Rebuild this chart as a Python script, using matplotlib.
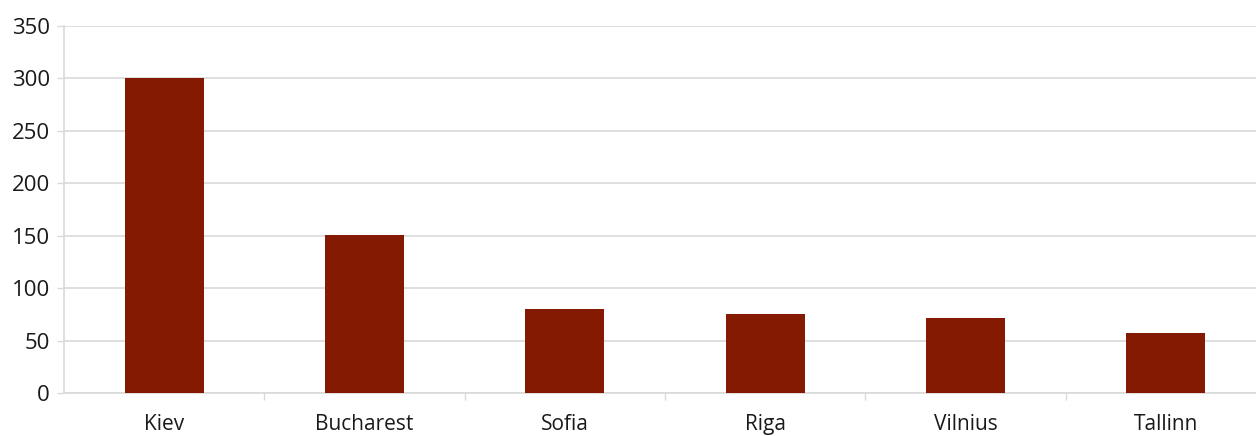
import matplotlib
matplotlib.use("Agg")
import matplotlib.pyplot as plt

cities = ["Kiev", "Bucharest", "Sofia", "Riga", "Vilnius", "Tallinn"]
values = [300, 151, 80, 75, 72, 57]
yticks = [0, 50, 100, 150, 200, 250, 300, 350]

plt.rcParams['font.family'] = ['Open Sans', 'DejaVu Sans']

fig = plt.figure(figsize=(12.56, 4.36), dpi=100)
ax = fig.add_axes([64/1256, 1-393/436, 1202/1256, (393-26)/436])

x = list(range(len(cities)))
ax.bar(x, values, width=0.395, color="#841a02", zorder=3)

ax.set_xlim(-0.5, len(cities)-0.5)
ax.set_ylim(0, 350)
ax.set_yticks(yticks)
ax.set_yticklabels([str(v) for v in yticks], fontsize=16, color="#1a1a1a")
ax.yaxis.grid(True, color="#d9d9d9", linewidth=1.2, zorder=0)
ax.set_axisbelow(True)

ax.set_xticks(x)
ax.set_xticklabels(cities, fontsize=15, color="#1a1a1a")
ax.tick_params(axis='x', length=0, pad=15)
ax.set_xticks([i + 0.5 for i in x[:-1]], minor=True)
ax.tick_params(axis='x', which='minor', length=5, color="#d9d9d9", width=1)
ax.tick_params(axis='y', length=5, color="#d9d9d9", width=1, pad=5)

for s in ["top", "right"]:
    ax.spines[s].set_visible(False)
ax.spines["left"].set_color("#d9d9d9")
ax.spines["bottom"].set_color("#d9d9d9")
ax.spines["left"].set_linewidth(1.2)
ax.spines["bottom"].set_linewidth(1.2)

fig.savefig("out.png", dpi=100)
